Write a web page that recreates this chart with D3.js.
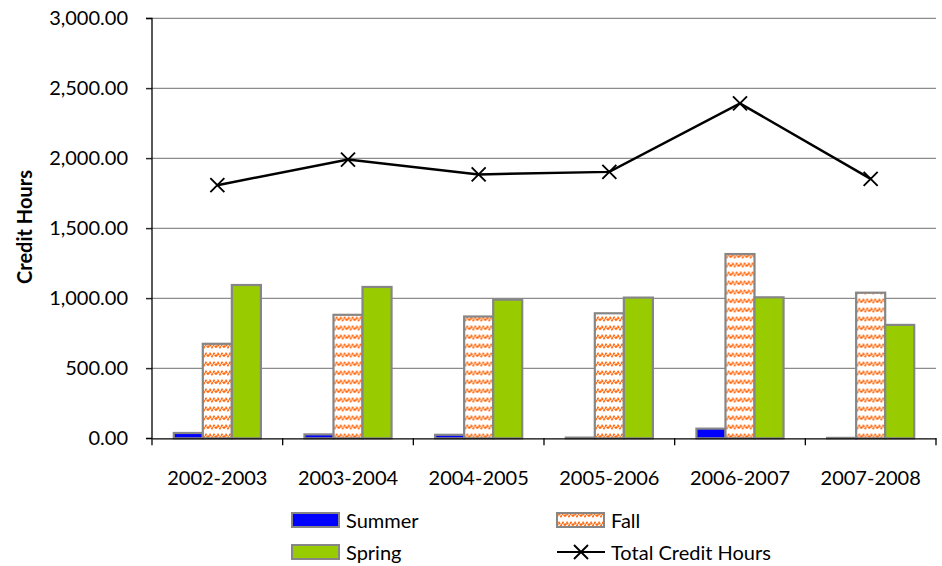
<!DOCTYPE html>
<html><head><meta charset="utf-8">
<script src="https://cdn.jsdelivr.net/npm/d3@7"></script>
<style>body{margin:0;background:#fff}svg{display:block;font-family:Lato,"Open Sans",sans-serif}</style>
</head><body><svg id="c" width="942" height="566"></svg>
<script>
const categories = ["2002-2003","2003-2004","2004-2005","2005-2006","2006-2007","2007-2008"];
const summer = [38, 28, 25, 5, 69, 3];
const fall = [675, 882, 870, 893, 1316, 1040];
const spring = [1095, 1081, 990, 1005, 1007, 810];
const total = [1808, 1991, 1885, 1903, 2392, 1853];
const yTicks = [0, 500, 1000, 1500, 2000, 2500, 3000];
const seriesNames = ["Summer","Fall","Spring"];

const FS = 20;
const svg = d3.select("#c");
const defs = svg.append("defs");
const pat = defs.append("pattern").attr("id","wave").attr("patternUnits","userSpaceOnUse")
  .attr("width",8).attr("height",9);
pat.append("rect").attr("width",8).attr("height",9).attr("fill","#fff");
pat.append("path").attr("d","M0,5.5 L2,2.5 L4,5.5 L6,2.5 L8,5.5").attr("fill","none")
  .attr("stroke","#FF6A10").attr("stroke-width",1.7).attr("stroke-dasharray","2.4,0.7");

const L=152, R=936, T=18.3, B=438.3;
const x = d3.scaleBand().domain(categories).range([L,R]).padding(0);
const inner = d3.scaleBand().domain(seriesNames).range([0,x.bandwidth()]).paddingInner(0).paddingOuter(0.75);
const y = d3.scaleLinear().domain([0,3000]).range([B,T]);

// gridlines
svg.append("g").selectAll("line").data(yTicks.filter(d=>d>0)).join("line")
  .attr("x1",L-6).attr("x2",R).attr("y1",d=>y(d)).attr("y2",d=>y(d))
  .attr("stroke","#8c8c8c").attr("stroke-width",1.3);

// y axis
const yAxis = d3.axisLeft(y).tickValues(yTicks).tickSize(6).tickPadding(18)
  .tickFormat(d=>d3.format(",.2f")(d));
const gy = svg.append("g").attr("transform",`translate(${L},0)`).call(yAxis);
gy.select(".domain").attr("stroke","#000").attr("stroke-width",1.3).attr("d",`M-6,${T}H0V${B}H-6`);
gy.selectAll(".tick line").attr("stroke","#000");
gy.selectAll("text").attr("font-size",FS).attr("fill","#000").attr("font-family","Lato");

// bars
const groups = svg.append("g").selectAll("g").data(categories).join("g")
  .attr("transform",d=>`translate(${x(d)},0)`);
const fills = {Summer:"#0000FF", Fall:"url(#wave)", Spring:"#99CC00"};
const vals = {Summer:summer, Fall:fall, Spring:spring};
groups.selectAll("rect").data((d,i)=>seriesNames.map(s=>({s, v:vals[s][i]}))).join("rect")
  .attr("x",d=>inner(d.s)).attr("width",inner.bandwidth())
  .attr("y",d=>y(d.v)).attr("height",d=>B-y(d.v))
  .attr("fill",d=>fills[d.s]).attr("stroke","#868686").attr("stroke-width",2.2);

// x axis
const xAxis = d3.axisBottom(x).tickSize(0).tickPadding(33);
const gx = svg.append("g").attr("transform",`translate(0,${B})`).call(xAxis);
gx.select(".domain").attr("stroke","#000").attr("stroke-width",1.3);
gx.selectAll("text").attr("font-size",FS).attr("fill","#000").attr("font-family","Lato");
svg.append("g").selectAll("line").data(d3.range(categories.length+1)).join("line")
  .attr("x1",i=>L+i*x.step()).attr("x2",i=>L+i*x.step()).attr("y1",B).attr("y2",B+7)
  .attr("stroke","#000").attr("stroke-width",1.3);

// line
const line = d3.line().x((d,i)=>x(categories[i])+x.bandwidth()/2).y(d=>y(d));
svg.append("path").datum(total).attr("d",line).attr("fill","none").attr("stroke","#000").attr("stroke-width",2.5);
const xm = 7;
svg.append("g").selectAll("path").data(total).join("path")
  .attr("d",(d,i)=>{const cx=x(categories[i])+x.bandwidth()/2, cy=y(d);
    return `M${cx-xm},${cy-xm}L${cx+xm},${cy+xm}M${cx-xm},${cy+xm}L${cx+xm},${cy-xm}`;})
  .attr("stroke","#000").attr("stroke-width",1.9);

// y title
svg.append("text").attr("transform","translate(32,227) rotate(-90)").attr("text-anchor","middle")
  .attr("font-size",FS).attr("font-weight","bold").attr("font-family","Lato").text("Credit Hours");

// legend
const leg = [
  {name:"Summer", type:"bar", fill:"#0000FF", x:292, y:520},
  {name:"Fall", type:"bar", fill:"url(#wave)", x:557, y:520},
  {name:"Spring", type:"bar", fill:"#99CC00", x:292, y:552},
  {name:"Total Credit Hours", type:"line", x:557, y:552}
];
const lg = svg.append("g").selectAll("g").data(leg).join("g").attr("transform",d=>`translate(${d.x},${d.y})`);
lg.filter(d=>d.type==="bar").append("rect").attr("x",0).attr("y",-7).attr("width",47).attr("height",14)
  .attr("fill",d=>d.fill).attr("stroke","#868686").attr("stroke-width",2);
const ll = lg.filter(d=>d.type==="line");
ll.append("line").attr("x1",0).attr("x2",48).attr("y1",0).attr("y2",0).attr("stroke","#000").attr("stroke-width",2.2);
ll.append("path").attr("d",`M${24-xm},${-xm}L${24+xm},${xm}M${24-xm},${xm}L${24+xm},${-xm}`).attr("stroke","#000").attr("stroke-width",1.9);
lg.append("text").attr("x",54).attr("y",7.5).attr("font-size",FS).attr("font-family","Lato").text(d=>d.name);
</script></body></html>
